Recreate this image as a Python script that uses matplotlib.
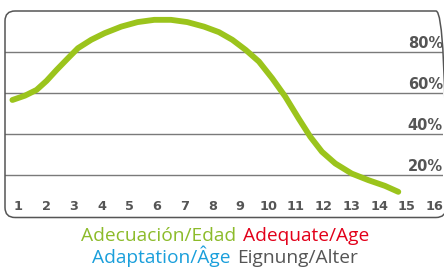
import matplotlib
matplotlib.use("Agg")
import matplotlib.pyplot as plt
from matplotlib.patches import FancyBboxPatch
from matplotlib.offsetbox import TextArea, HPacker, AnchoredOffsetbox

# curve (age, suitability %)
ages = [0.79, 1.24, 1.66, 2.02, 2.38, 2.79, 3.15, 3.63, 4.11, 4.71, 5.30,
        5.90, 6.50, 7.09, 7.69, 8.23, 8.71, 9.19, 9.67, 10.15, 10.62, 11.10,
        11.52, 11.94, 12.42, 13.01, 13.61, 14.21, 14.69]
suitability = [56.7, 58.8, 61.6, 66.0, 71.3, 77.0, 81.9, 86.0, 89.2, 92.4,
               94.6, 95.7, 95.7, 94.6, 92.4, 89.7, 86.0, 81.1, 75.4, 67.2,
               58.3, 47.7, 38.8, 31.5, 25.8, 20.9, 17.7, 14.9, 12.0]

age_ticks = list(range(1, 17))
pct_ticks = [20, 40, 60, 80]
pct_labels = ["20%", "40%", "60%", "80%"]

title_lines = [
    [("Adecuación/Edad", "#8cbb2a"), ("Adequate/Age", "#e2001a")],
    [("Adaptation/Âge", "#1a9fdb"), ("Eignung/Alter", "#555555")],
]

W, H = 444, 269
fig = plt.figure(figsize=(W / 100, H / 100), dpi=100)
ax = fig.add_axes([5 / W, (H - 216.5) / H, 438 / W, 205.5 / H])
ax.set_xlim(0.523, 16.3)
ax.set_ylim(0, 100)
ax.axis("off")

gray = "#555555"

# rounded frame, right side runs just past the picture edge
frame = FancyBboxPatch((5 / W, (H - 217.5) / H), 441 / W, 206.5 / H,
                       boxstyle="round,pad=0,rounding_size=%f" % (10 / W),
                       mutation_aspect=W / H, transform=fig.transFigure,
                       fill=False, edgecolor=gray, linewidth=1.1,
                       clip_on=False)
fig.patches.append(frame)

for v, lab in zip(pct_ticks, pct_labels):
    ax.axhline(v, color="#7a7a7a", lw=1.0, zorder=1)
    ax.text(16.3, v + 0.6, lab, ha="right", va="bottom", fontsize=10.5,
            fontweight="bold", color=gray)

for a in age_ticks:
    ax.text(a, 4.7, str(a), ha="center", va="center", fontsize=9.3,
            fontweight="bold", color=gray)

ax.plot(ages, suitability, color="#9bc41c", lw=4.2, solid_capstyle="round",
        solid_joinstyle="round", zorder=3)

ys = [(H - 236) / H, (H - 256.5) / H]
for parts, y in zip(title_lines, ys):
    boxes = [TextArea(s, textprops=dict(color=c, fontsize=13.8,
                                        family="Open Sans"))
             for s, c in parts]
    pack = HPacker(children=boxes, align="baseline", pad=0, sep=5)
    anch = AnchoredOffsetbox(loc="center", child=pack, pad=0, frameon=False,
                             bbox_to_anchor=(0.507, y),
                             bbox_transform=fig.transFigure, borderpad=0)
    fig.add_artist(anch)

fig.savefig("out.png", dpi=100)
